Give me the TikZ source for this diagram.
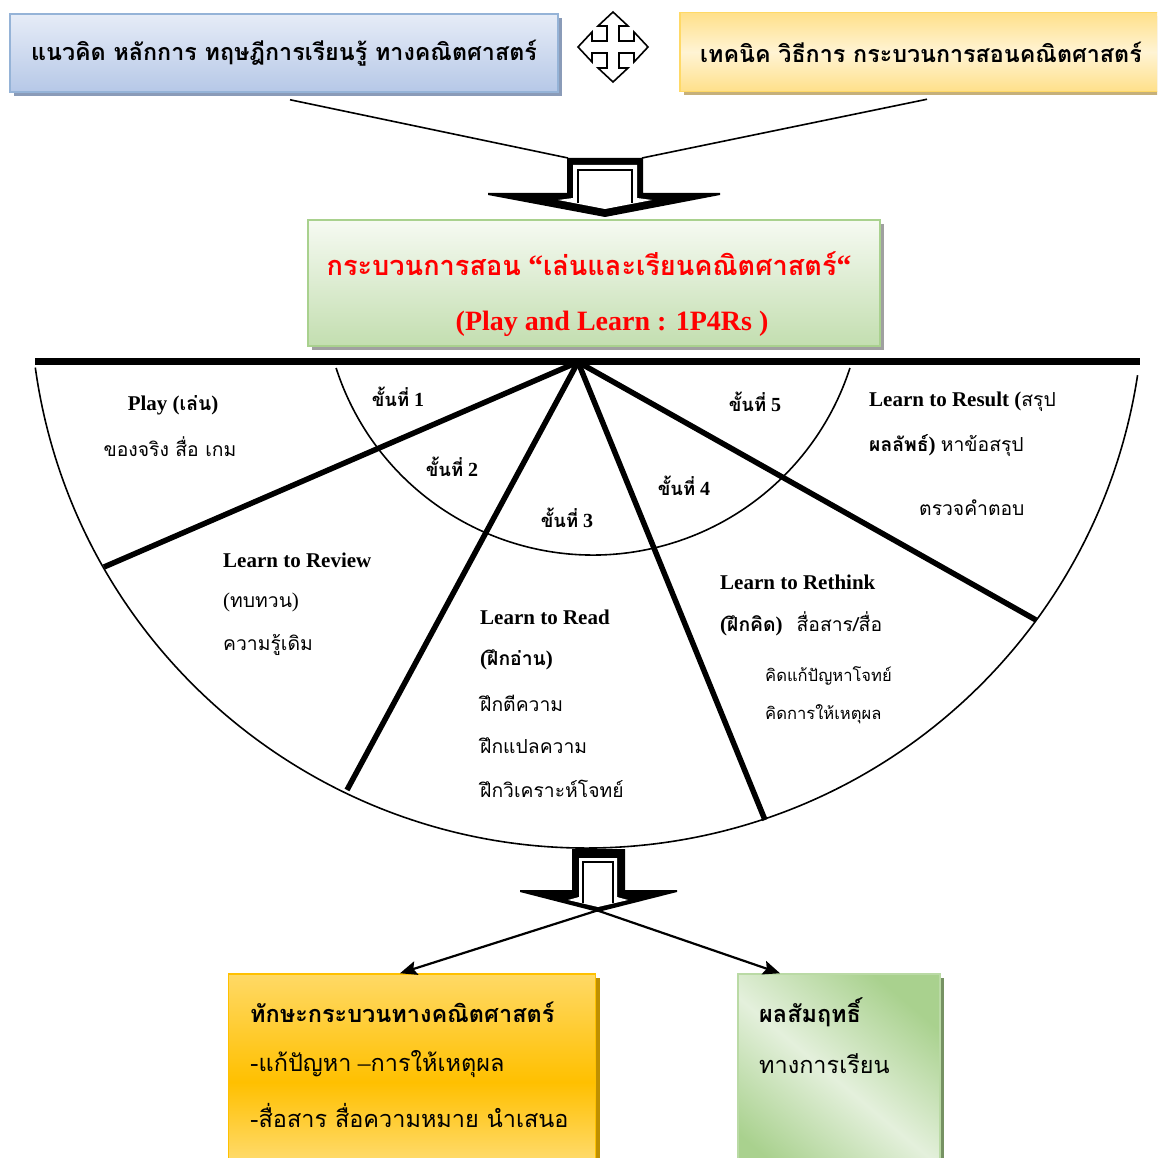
\documentclass[tikz,border=0pt]{standalone}
\usepackage{fontspec}
\setmainfont{Liberation Serif}
\newfontfamily\thaifont[Script=Thai,Scale=0.92]{Loma}
\newcommand\thtxt[1]{{\thaifont #1}}
\usetikzlibrary{arrows.meta,shadows}

\definecolor{conceptedge}{HTML}{95B3D7}
\definecolor{concepttop}{HTML}{E6ECF7}
\definecolor{conceptbot}{HTML}{B6C8E7}
\definecolor{conceptshade}{HTML}{8A9BB8}
\definecolor{techedge}{HTML}{FFD966}
\definecolor{techtop}{HTML}{FFE08A}
\definecolor{techmid}{HTML}{FFF4D4}
\definecolor{techshade}{HTML}{C6B07A}
\definecolor{procedge}{HTML}{A9D18E}
\definecolor{proctop}{HTML}{F6FAF2}
\definecolor{procbot}{HTML}{C3DEB0}
\definecolor{procshade}{HTML}{A0A0A0}
\definecolor{skilledge}{HTML}{FFC000}
\definecolor{skilltop}{HTML}{FFD966}
\definecolor{skillshade}{HTML}{BF9000}
\definecolor{achdark}{HTML}{A9D18E}
\definecolor{achlight}{HTML}{E4F0DC}

\tikzset{
  shadowed/.style={drop shadow={shadow xshift=4pt,shadow yshift=-4pt,fill=#1,opacity=1}},
  conceptbox/.style={draw=conceptedge,line width=1.5pt,top color=concepttop,bottom color=conceptbot,shadowed=conceptshade},
  techbox/.style={draw=techedge,line width=1.5pt,top color=techtop,bottom color=techtop,middle color=techmid,shadowed=techshade},
  procbox/.style={draw=procedge,line width=1.5pt,top color=proctop,bottom color=procbot,shadowed=procshade},
  skillbox/.style={draw=skilledge,line width=1.5pt,top color=skilltop,bottom color=skilltop!70,middle color=skilledge,shadowed=skillshade},
  achbox/.style={draw=achdark!80,line width=1.5pt,top color=achdark,bottom color=achdark,middle color=achlight,shading angle=-40,shadowed=achdark!70!black},
  lbl/.style={anchor=west,font=\fontsize{21}{24}\selectfont},
  stepno/.style={font=\bfseries\fontsize{20}{23}\selectfont},
  boxtxt/.style={anchor=west,font=\fontsize{25.5}{29}\selectfont}
}

\begin{document}
\begin{tikzpicture}[x=1pt,y=-1pt,every node/.style={inner sep=0pt}]
  \useasboundingbox (0,0) rectangle (1157,1158);
  \clip (0,0) rectangle (1157,1158);
  \def\aw{6}
  \def\hw{15}
  \def\hb{21}
  \def\tl{35}
  % top row
  \node[conceptbox,minimum width=548pt,minimum height=78pt,
    font=\thaifont\bfseries\fontsize{25.3}{29}\selectfont] (concept) at (284,53)
    {แนวคิด หลักการ ทฤษฎีการเรียนรู้ ทางคณิตศาสตร์};
  \node[techbox,minimum width=482pt,minimum height=79pt,
    font=\thaifont\bfseries\fontsize{25.3}{29}\selectfont] (tech) at (921,52)
    {เทคนิค วิธีการ กระบวนการสอนคณิตศาสตร์};
  \coordinate (swap) at (613,47);
  \draw[line width=1.6pt,shift={(swap)}] (\tl,0) -- (\hb,\hw) -- (\hb,\aw) -- (\aw,\aw)
    -- (\aw,\hb) -- (\hw,\hb) -- (0,\tl) -- (-\hw,\hb) -- (-\aw,\hb) -- (-\aw,\aw)
    -- (-\hb,\aw) -- (-\hb,\hw) -- (-\tl,0) -- (-\hb,-\hw) -- (-\hb,-\aw) -- (-\aw,-\aw)
    -- (-\aw,-\hb) -- (-\hw,-\hb) -- (0,-\tl) -- (\hw,-\hb) -- (\aw,-\hb) -- (\aw,-\aw)
    -- (\hb,-\aw) -- (\hb,-\hw) -- cycle;
  %
  \coordinate (stemL) at (568,158);
  \coordinate (stemR) at (642,158);
  \draw[line width=1.6pt] ([xshift=6pt,yshift=-7pt]concept.south) -- (stemL);
  \draw[line width=1.6pt] ([xshift=6pt,yshift=-7pt]tech.south) -- (stemR);
  \fill (567,158) -- (643,158) -- (643,193) -- (720,193) -- (720,195) -- (605,217)
    -- (488,195) -- (488,193) -- (567,193) -- cycle;
  \fill[white] (573,165) -- (637,165) -- (637,198) -- (652,200) -- (605,209)
    -- (558,200) -- (573,198) -- cycle;
  \draw[line width=1.2pt] (578,203) -- (578,170) -- (632,170) -- (632,203);
  %
  \node[procbox,minimum width=572pt,minimum height=126pt] (proc) at (594,283) {};
  \node[text=red,font=\bfseries\fontsize{29.5}{33}\selectfont] (title) at (589,264)
    {\thtxt{กระบวนการสอน} “\thtxt{เล่นและเรียนคณิตศาสตร์}“};
  \node[text=red,font=\bfseries\fontsize{28}{32}\selectfont] (subtitle) at (612,324)
    {(Play and Learn : 1P4Rs )};
  %
  \coordinate (apex) at (578,362);
  \draw[line width=1.6pt] (587,291) ++(172.1:557) arc[start angle=172.1,end angle=8.7,radius=557];
  \draw[line width=1.6pt] (593,285) ++(162.1:270) arc[start angle=162.1,end angle=17.9,radius=270];
  \draw[line width=7pt] (35,361) -- (1140,361);
  \foreach \ex/\ey in {104/567,347/790,765/820,1036/620}
    \draw[line width=5.5pt] (apex) -- (\ex,\ey);
  %
  \node[stepno] (s1) at (398,397) {\thtxt{ขั้นที่} 1};
  \node[stepno] (s2) at (452,467) {\thtxt{ขั้นที่} 2};
  \node[stepno] (s3) at (567,518) {\thtxt{ขั้นที่} 3};
  \node[stepno] (s4) at (684,486) {\thtxt{ขั้นที่} 4};
  \node[stepno] (s5) at (755,402) {\thtxt{ขั้นที่} 5};
  %
  \node[lbl,anchor=center,font=\bfseries\fontsize{21}{24}\selectfont] (play1) at (173,405) {Play (\thtxt{เล่น})};
  \node[lbl,anchor=center] (play2) at (170,447) {\thtxt{ของจริง สื่อ เกม}};
  \node[lbl] (review1) at (223,560) {\textbf{Learn to Review}};
  \node[lbl] (review2) at (223,602) {(\thtxt{ทบทวน})};
  \node[lbl] (review3) at (223,645) {\thtxt{ความรู้เดิม}};
  \node[lbl] (read1) at (480,617) {\textbf{Learn to Read}};
  \node[lbl] (read2) at (480,660) {\textbf{(\thtxt{ฝึกอ่าน})}};
  \node[lbl] (read3) at (480,703) {\thtxt{ฝึกตีความ}};
  \node[lbl] (read4) at (480,746) {\thtxt{ฝึกแปลความ}};
  \node[lbl] (read5) at (480,789) {\thtxt{ฝึกวิเคราะห์โจทย์}};
  \node[lbl] (think1) at (720,582) {\textbf{Learn to Rethink}};
  \node[lbl] (think2) at (720,624) {\textbf{(\thtxt{ฝึกคิด})}\hspace{14pt}\thtxt{สื่อสาร/สื่อ}};
  \node[lbl,font=\fontsize{18}{21}\selectfont] (think3) at (765,676) {\thtxt{คิดแก้ปัญหาโจทย์}};
  \node[lbl,font=\fontsize{18}{21}\selectfont] (think4) at (765,714) {\thtxt{คิดการให้เหตุผล}};
  \node[lbl] (result1) at (869,402) {\textbf{Learn to Result (}\thtxt{สรุป}};
  \node[lbl] (result2) at (869,446) {\textbf{\thtxt{ผลลัพธ์})} \thtxt{หาข้อสรุป}};
  \node[lbl] (result3) at (919,508) {\thtxt{ตรวจคำตอบ}};
  %
  \node[skillbox,minimum width=367pt,minimum height=216pt] (skills) at (412,1082) {};
  \node[achbox,minimum width=202pt,minimum height=216pt] (ach) at (839,1082) {};
  \node[boxtxt,font=\bfseries\fontsize{25.5}{29}\selectfont] (skill1) at (250,1012) {\thtxt{ทักษะกระบวนทางคณิตศาสตร์}};
  \node[boxtxt] (skill2) at (250,1064) {-\thtxt{แก้ปัญหา} –\thtxt{การให้เหตุผล}};
  \node[boxtxt] (skill3) at (250,1115) {-\thtxt{สื่อสาร สื่อความหมาย นำเสนอ}};
  \node[boxtxt,font=\bfseries\fontsize{25.5}{29}\selectfont] (ach1) at (759,1012) {\thtxt{ผลสัมฤทธิ์}};
  \node[boxtxt] (ach2) at (759,1064) {\thtxt{ทางการเรียน}};
  %
  \coordinate (forkL) at (627,901);
  \coordinate (forkR) at (567,900);
  \draw[line width=2.2pt,-{Stealth[length=17pt,width=14pt,inset=3pt]}] (forkL) -- ([xshift=-12pt]skills.north);
  \draw[line width=2.2pt,-{Stealth[length=17pt,width=14pt,inset=3pt]}] (forkR) -- ([xshift=-59pt]ach.north);
  \fill (572,849) -- (625,849) -- (625,890) -- (677,890) -- (677,892) -- (598,912)
    -- (520,892) -- (520,890) -- (572,890) -- cycle;
  \fill[white] (579,858) -- (617,858) -- (617,897) -- (628,900) -- (598,907)
    -- (568,900) -- (579,897) -- cycle;
  \draw[line width=1.2pt] (583,903) -- (583,862) -- (613,862) -- (613,903);
\end{tikzpicture}
\end{document}
